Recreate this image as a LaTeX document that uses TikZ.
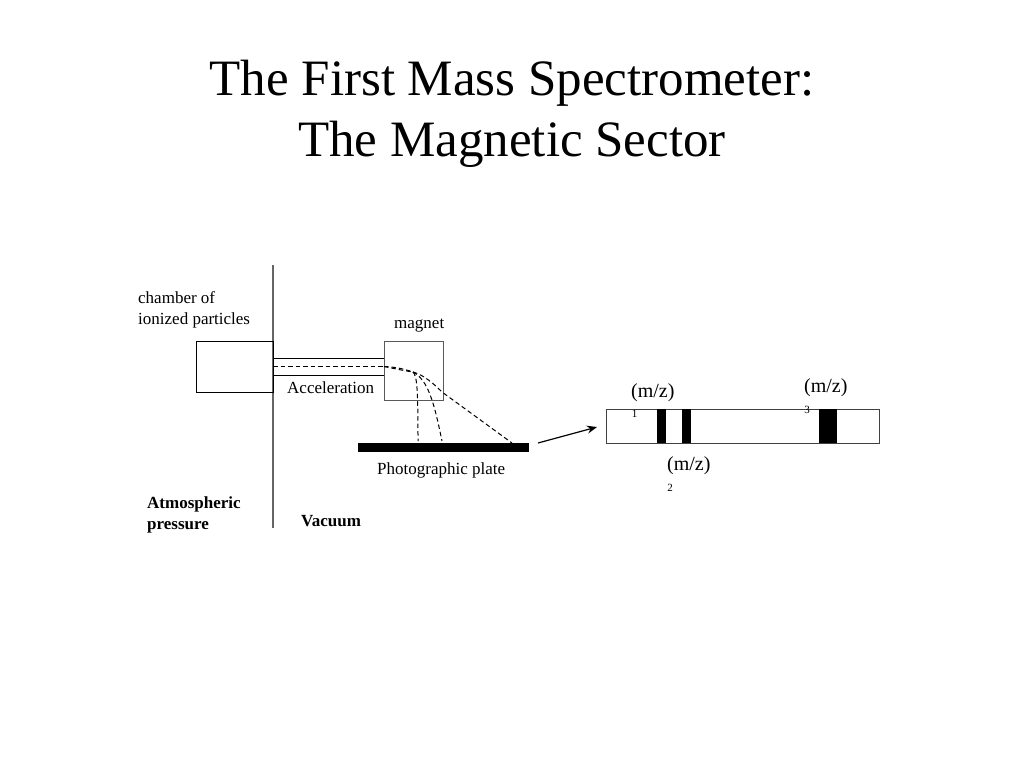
\documentclass[tikz,border=0pt]{standalone}
\usepackage{fontspec}
\setmainfont{Liberation Serif}
\usetikzlibrary{arrows.meta}
\tikzset{
  box/.style={draw=#1,line width=1pt,fill=none,inner sep=0pt,outer sep=0pt,anchor=north west},
  box/.default=black,
  solidbar/.style={fill=black,draw=none,inner sep=0pt,outer sep=0pt,anchor=north west},
  lbl/.style={inner sep=0pt,font=\fontsize{17}{21}\selectfont,align=left,anchor=west},
  mz/.style={inner sep=0pt,font=\fontsize{20}{24}\selectfont,anchor=west},
  sub/.style={inner sep=0pt,font=\fontsize{11}{12}\selectfont,anchor=center},
  beam/.style={line width=1pt,dash pattern=on 4.5pt off 3pt},
}
\begin{document}
\begin{tikzpicture}[x=1pt,y=-1pt]
\useasboundingbox (0,0) rectangle (1024,768);
\fill[white] (0,0) rectangle (1024,768);
\node[inner sep=0pt,align=center,font=\fontsize{51}{61}\selectfont] (title) at (512,114) {The First Mass Spectrometer:\\The Magnetic Sector};
% pressure wall
\coordinate (walltop) at (273,265);
\coordinate (wallbot) at (273,528);
\draw[line width=1.3pt,draw=black!60] (walltop) -- (wallbot);
% boxes
\node[box,minimum width=77pt,minimum height=51pt] (chamber) at (196,341) {};
\node[box,minimum width=111pt,minimum height=17pt] (tube) at (273,358) {};
\node[box=black!65,minimum width=59.5pt,minimum height=59.5pt] (magnet) at (384,341) {};
\node[solidbar,minimum width=171pt,minimum height=9pt] (plate) at (358,443) {};
\node[box=black!75,minimum width=273pt,minimum height=34pt] (strip) at (606,409) {};
\node[solidbar,minimum width=9pt,minimum height=34pt] (bara) at (657,409) {};
\node[solidbar,minimum width=9pt,minimum height=34pt] (barb) at (682,409) {};
\node[solidbar,minimum width=18pt,minimum height=34pt] (barc) at (819,409) {};
% beams
\coordinate (beamin) at (tube.west);
\coordinate (beamout) at (tube.east);
\coordinate (splitpt) at (413,372);
\coordinate (hita) at (418,441);
\coordinate (hitb) at (442,441);
\coordinate (hitc) at (512,443);
\draw[beam] (beamin) -- (beamout);
\draw[beam] (beamout) .. controls (396,367) and (404,369) .. (splitpt);
\draw[beam] (beamout) .. controls (396,369) and (406,371) .. (splitpt);
\draw[beam] (splitpt) .. controls (417,376) and (418,388) .. (hita);
\draw[beam] (splitpt) .. controls (428,380) and (434,402) .. (hitb);
\draw[beam] (splitpt) .. controls (424,375) and (434,384) .. (442,392) -- (hitc);
% arrow
\coordinate (arrfrom) at (538,443);
\coordinate (arrto) at (597,427);
\draw[line width=1.2pt,-{Stealth[length=10pt,width=8pt]}] (arrfrom) -- (arrto);
% labels
\node[lbl] (lchamber) at (138,309.5) {chamber of\\ionized particles};
\node[lbl] (lmagnet) at (394,326) {magnet};
\node[lbl] (laccel) at (287,388) {Acceleration};
\node[lbl] (lplate) at (377,470) {Photographic plate};
\node[lbl,font=\fontsize{17}{21}\selectfont\bfseries] (latm) at (147,515) {Atmospheric\\pressure};
\node[lbl,font=\fontsize{17}{21}\selectfont\bfseries] (lvac) at (301,521) {Vacuum};
\node[mz] (lmza) at (631,393) {(m/z)};
\node[sub] (suba) at (634.5,414) {1};
\node[mz] (lmzb) at (667,466) {(m/z)};
\node[sub] (subb) at (670,488) {2};
\node[mz] (lmzc) at (804,388) {(m/z)};
\node[sub] (subc) at (807,410) {3};
\end{tikzpicture}
\end{document}
